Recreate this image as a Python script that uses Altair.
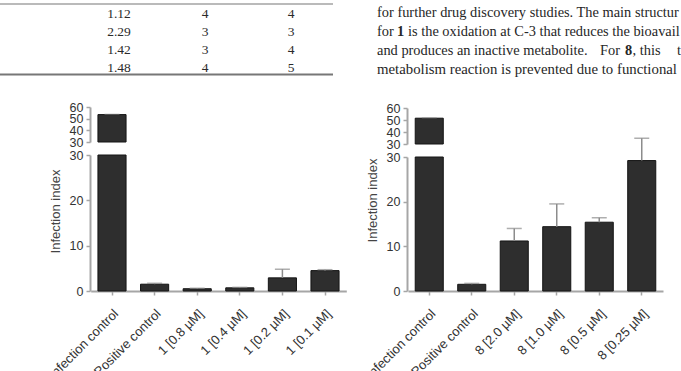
import altair as alt
import pandas as pd

# ---------------- data ----------------
table_col1 = ["1.12", "2.29", "1.42", "1.48"]
table_col2 = ["4", "3", "3", "4"]
table_col3 = ["4", "3", "4", "5"]

para_line1 = "for further drug discovery studies. The main structur"
para_line2 = ["for ", "1", "is the oxidation at C-3 that reduces the bioavail"]
para_line3 = ["and produces an inactive metabolite.", "For", "8", ", this", "t"]
para_line4 = "metabolism reaction is prevented due to functional"

left_categories = ["Infection control", "Positive control", "1 [0.8 µM]",
                   "1 [0.4 µM]", "1 [0.2 µM]", "1 [0.1 µM]"]
left_values = [53.5, 1.5, 0.5, 0.7, 2.9, 4.5]
left_errors = [0.3, 0.2, 0.1, 0.1, 1.9, 0.2]

right_categories = ["Infection control", "Positive control", "8 [2.0 µM]",
                    "8 [1.0 µM]", "8 [0.5 µM]", "8 [0.25 µM]"]
right_values = [51.5, 1.5, 11.2, 14.4, 15.4, 29.2]
right_errors = [0.3, 0.2, 2.8, 5.1, 1.0, 5.0]

W, H = 681, 371
BAR = "#2e2e2e"
EDGE = "#141414"
ERR = "#8c8c8c"
AX = "#a6a6a6"
SERIF = "Liberation Serif"
SANS = "Liberation Sans"
PSIZE = 14.4


def txt(s, x, y, size=PSIZE, bold=False):
    return alt.Chart(pd.DataFrame({"t": [s]})).mark_text(
        align="left", baseline="alphabetic", font=SERIF, fontSize=size,
        fontWeight="bold" if bold else "normal", color="#262626"
    ).encode(x=alt.value(x), y=alt.value(y), text="t:N")


def panel(cats, vals, errs, xrange, axis_x, top_range, bottom_range, title_y):
    df = pd.DataFrame({"cat": cats, "value": vals, "err": errs})
    base = alt.Chart(df).transform_calculate(upper="datum.value + datum.err")
    xs = alt.Scale(domain=cats, range=xrange, paddingInner=0.34, paddingOuter=0.17)
    yb_clamp = alt.Scale(domain=[0, 30], range=bottom_range, nice=False, zero=False, clamp=True)
    yb = alt.Scale(domain=[0, 30], range=bottom_range, nice=False, zero=False)
    yt_clamp = alt.Scale(domain=[30, 60], range=top_range, nice=False, zero=False, clamp=True)
    yt = alt.Scale(domain=[30, 60], range=top_range, nice=False, zero=False)

    x_axis = alt.Axis(orient="bottom", offset=bottom_range[0] - H, title=None,
                      labelAngle=-45, labelAlign="right", labelBaseline="top",
                      labelPadding=12, labelFontSize=13, tickSize=4)
    yb_axis = alt.Axis(orient="left", offset=-axis_x, values=[0, 10, 20, 30],
                       title="Infection index", titleX=-35, titleY=title_y,
                       titleBaseline="middle", titleFontSize=13, labelFontSize=12.5,
                       tickSize=4, labelPadding=3)
    yt_axis = alt.Axis(orient="left", offset=-axis_x, values=[30, 40, 50, 60],
                       title=None, labelFontSize=12.5, tickSize=4, labelPadding=3)

    bars_b = base.mark_bar(color=BAR, stroke=EDGE, strokeWidth=1).encode(
        x=alt.X("cat:N", scale=xs, axis=x_axis),
        y=alt.Y("value:Q", scale=yb_clamp, axis=yb_axis),
        y2=alt.datum(0),
    )
    low = base.transform_filter(alt.datum.cat != cats[0])
    err_b = low.mark_rule(color=ERR, strokeWidth=1.5).encode(
        x=alt.X("cat:N", scale=xs, axis=None),
        y=alt.Y("value:Q", scale=yb, axis=None),
        y2="upper:Q",
    )
    cap_b = low.mark_tick(color=ERR, orient="horizontal", size=15, thickness=1.5).encode(
        x=alt.X("cat:N", scale=xs, axis=None),
        y=alt.Y("upper:Q", scale=yb, axis=None),
    )
    high = base.transform_filter(alt.datum.cat == cats[0])
    bars_t = high.mark_bar(color=BAR, stroke=EDGE, strokeWidth=1).encode(
        x=alt.X("cat:N", scale=xs, axis=None),
        y=alt.Y("value:Q", scale=yt_clamp, axis=yt_axis),
        y2=alt.datum(30),
    )
    cap_t = high.mark_tick(color=ERR, orient="horizontal", size=15, thickness=1).encode(
        x=alt.X("cat:N", scale=xs, axis=None),
        y=alt.Y("upper:Q", scale=yt, axis=None),
    )
    return [bars_b, err_b, cap_b, bars_t, cap_t]


# table fragment
tbl = pd.DataFrame({
    "v": table_col1 + table_col2 + table_col3,
    "col": [0] * 4 + [1] * 4 + [2] * 4,
    "row": list(range(4)) * 3,
})
table_text = alt.Chart(tbl).mark_text(
    baseline="alphabetic", align="center", font=SERIF, fontSize=13.5, color="#2a2a2a"
).encode(
    x=alt.X("col:Q", scale=alt.Scale(domain=[0, 2], range=[119, 291], nice=False, zero=False), axis=None),
    y=alt.Y("row:Q", scale=alt.Scale(domain=[0, 3], range=[18.2, 71.8], nice=False, zero=False), axis=None),
    text="v:N",
)
rule_df = pd.DataFrame({"k": [0]})
top_rule = alt.Chart(rule_df).mark_rule(color="#777", strokeWidth=1.2).encode(
    x=alt.value(0), x2=alt.value(333), y=alt.value(4))
bot_rule = alt.Chart(rule_df).mark_rule(color="#777", strokeWidth=2).encode(
    x=alt.value(0), x2=alt.value(333), y=alt.value(74.5))

texts = [
    txt(para_line1, 377, 16.7),
    txt(para_line2[0], 377, 36), txt(para_line2[1], 397, 36, bold=True),
    txt(para_line2[2], 408, 36),
    txt(para_line3[0], 377, 55), txt(para_line3[1], 600, 55),
    txt(para_line3[2], 625, 55, bold=True),
    txt(para_line3[3], 632.5, 55), txt(para_line3[4], 677, 55),
    txt(para_line4, 377, 74, size=14.8),
]

layers = []
layers += panel(left_categories, left_values, left_errors, [90.7, 346.3], 90,
                [142, 107], [291, 155], 211)
layers += panel(right_categories, right_values, right_errors, [408, 663], 407,
                [144, 108], [291, 157], 200)
layers += [table_text, top_rule, bot_rule] + texts

chart = alt.layer(*layers).resolve_scale(x="independent", y="independent").properties(
    width=W, height=H, autosize=alt.AutoSizeParams(type="none"), padding=0,
    background="white",
).configure_view(strokeWidth=0).configure_axis(
    labelFont=SANS, titleFont=SANS, labelColor="#333333", titleColor="#444444",
    titleFontWeight="normal", domainColor=AX, domainWidth=2, tickColor=AX,
    tickWidth=1.5, grid=False, labelOverlap=False, labelFlush=False,
)

chart.save("out.html", embed_options={"renderer": "svg", "actions": False})
